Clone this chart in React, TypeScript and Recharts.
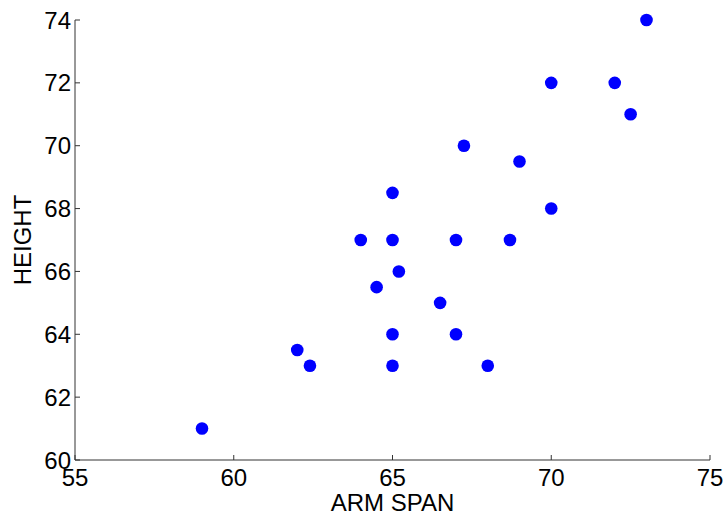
import React from "react";
import { ScatterChart, Scatter, XAxis, YAxis, Label } from "recharts";

// arm span vs height
const armSpan = [59, 62, 62.4, 64, 64.5, 65, 65, 65, 65, 65.2, 66.5, 67, 67, 67.25, 68, 68.7, 69, 70, 70, 72, 72.5, 73];
const height = [61, 63.5, 63, 67, 65.5, 68.5, 67, 64, 63, 66, 65, 67, 64, 70, 63, 67, 69.5, 72, 68, 72, 71, 74];

const xTicks = [55, 60, 65, 70, 75];
const yTicks = [60, 62, 64, 66, 68, 70, 72, 74];

const data = armSpan.map((a, i) => ({ armSpan: a, height: height[i] }));

const FONT = "'Liberation Sans', Arial, sans-serif";
const AXIS = "#333";

const XTick = (props: any) => {
    const { x, y, payload } = props;
    return (
        <g>
            <line x1={x} y1={y} x2={x} y2={y - 5} stroke={AXIS} />
            <text x={x} y={y + 26} textAnchor="middle" fontSize={24} fontFamily={FONT} fill="#000">
                {payload.value}
            </text>
        </g>
    );
};

const YTick = (props: any) => {
    const { x, y, payload } = props;
    return (
        <g>
            <line x1={x} y1={y} x2={x + 5} y2={y} stroke={AXIS} />
            <text x={x - 4} y={y} dy="0.36em" textAnchor="end" fontSize={24} fontFamily={FONT} fill="#000">
                {payload.value}
            </text>
        </g>
    );
};

const Dot = (props: any) => <circle cx={props.cx} cy={props.cy} r={6.3} fill="#0000ff" />;

export default function App() {
    return (
        <div style={{ position: "absolute", left: 0, top: 0, background: "#fff" }}>
            <ScatterChart width={726} height={514} margin={{ top: 20, right: 16, bottom: 0, left: 0 }}>
                <XAxis
                    type="number"
                    dataKey="armSpan"
                    domain={[55, 75]}
                    ticks={xTicks}
                    tickSize={0}
                    tickMargin={0}
                    tickLine={false}
                    stroke={AXIS}
                    height={54}
                    tick={<XTick />}
                    interval={0}
                >
                    <Label
                        content={(p: any) => {
                            const vb = p.viewBox;
                            return (
                                <text x={vb.x + vb.width / 2} y={511} textAnchor="middle" fontSize={24} fontFamily={FONT} fill="#000">
                                    ARM SPAN
                                </text>
                            );
                        }}
                    />
                </XAxis>
                <YAxis
                    type="number"
                    dataKey="height"
                    domain={[60, 74]}
                    ticks={yTicks}
                    tickSize={0}
                    tickMargin={0}
                    tickLine={false}
                    stroke={AXIS}
                    width={75}
                    tick={<YTick />}
                    interval={0}
                >
                    <Label
                        content={(p: any) => {
                            const vb = p.viewBox;
                            const cx = 22;
                            const cy = vb.y + vb.height / 2;
                            return (
                                <text
                                    x={cx}
                                    y={cy}
                                    dy="0.36em"
                                    textAnchor="middle"
                                    transform={`rotate(-90 ${cx} ${cy})`}
                                    fontSize={24}
                                    fontFamily={FONT}
                                    fill="#000"
                                >
                                    HEIGHT
                                </text>
                            );
                        }}
                    />
                </YAxis>
                <Scatter data={data} shape={<Dot />} isAnimationActive={false} />
            </ScatterChart>
        </div>
    );
}
